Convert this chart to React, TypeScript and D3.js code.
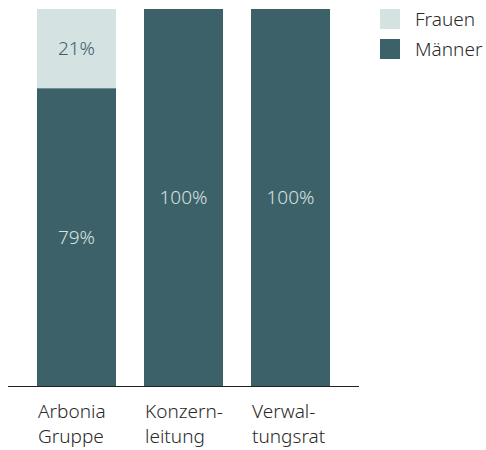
import React, { useRef, useEffect } from "react";
import * as d3 from "d3";

const categories = ["Arbonia Gruppe", "Konzernleitung", "Verwaltungsrat"];
const labelLines = [["Arbonia", "Gruppe"], ["Konzern-", "leitung"], ["Verwal-", "tungsrat"]];
const maenner = [79, 100, 100];
const frauen = [21, 0, 0];
const seriesNames = ["Frauen", "Männer"];

const DARK = "#3d6168";
const LIGHT = "#d5e2e2";
const FONT = "'Noto Sans', 'Open Sans', sans-serif";
const WEIGHT = 350;

function App() {
  const svgRef = useRef<SVGSVGElement>(null);

  useEffect(() => {
    const w = 486;
    const h = 450;
    const svg = d3.select(svgRef.current).attr("width", w).attr("height", h);
    svg.selectAll("*").remove();

    const x = d3.scaleBand().domain(categories).range([37, 330]).paddingInner(0.2617).paddingOuter(0);
    const y = d3.scaleLinear().domain([0, 100]).range([386, 9]);

    const rows = categories.map((c, i) => ({ cat: c, Männer: maenner[i], Frauen: frauen[i] }));
    const stacked = d3.stack<any>().keys(["Männer", "Frauen"])(rows);
    const color = { Männer: DARK, Frauen: LIGHT } as Record<string, string>;
    const textColor = { Männer: LIGHT, Frauen: DARK } as Record<string, string>;

    stacked.forEach((s) => {
      const g = svg.append("g");
      g.selectAll("rect")
        .data(s.filter((d) => d[1] - d[0] > 0))
        .enter()
        .append("rect")
        .attr("x", (d) => x(d.data.cat)!)
        .attr("width", x.bandwidth())
        .attr("y", (d) => y(d[1]))
        .attr("height", (d) => y(d[0]) - y(d[1]))
        .attr("fill", color[s.key]);
      g.selectAll("text")
        .data(s.filter((d) => d[1] - d[0] > 0))
        .enter()
        .append("text")
        .attr("x", (d) => x(d.data.cat)! + x.bandwidth() / 2)
        .attr("y", (d) => (y(d[0]) + y(d[1])) / 2)
        .attr("dy", "0.35em")
        .attr("text-anchor", "middle")
        .attr("font-family", FONT)
        .attr("font-size", 19)
        .attr("font-weight", WEIGHT)
        .attr("fill", textColor[s.key])
        .text((d) => `${d[1] - d[0]}%`);
    });

    svg.append("line")
      .attr("x1", 8).attr("x2", 359)
      .attr("y1", 386.5).attr("y2", 386.5)
      .attr("stroke", "#222").attr("stroke-width", 1);

    categories.forEach((c, i) => {
      const t = svg.append("text")
        .attr("x", x(c)! + 1)
        .attr("y", 418)
        .attr("font-family", FONT)
        .attr("font-size", 19)
        .attr("font-weight", WEIGHT)
        .attr("fill", "#2a2a2a");
      labelLines[i].forEach((line, j) => {
        t.append("tspan").attr("x", x(c)! + 1).attr("dy", j === 0 ? 0 : 25).text(line);
      });
    });

    const legend = svg.append("g");
    seriesNames.forEach((n, i) => {
      legend.append("rect")
        .attr("x", 380).attr("y", 9 + i * 30)
        .attr("width", 20).attr("height", 20)
        .attr("fill", n === "Frauen" ? LIGHT : DARK);
      legend.append("text")
        .attr("x", 415).attr("y", 19 + i * 30)
        .attr("dy", "0.35em")
        .attr("font-family", FONT)
        .attr("font-size", 19)
        .attr("font-weight", WEIGHT)
        .attr("fill", "#2a2a2a")
        .text(n);
    });
  }, []);

  return (
    <div style={{ position: "absolute", left: 0, top: 0 }}>
      <svg ref={svgRef}></svg>
    </div>
  );
}

export default App;
